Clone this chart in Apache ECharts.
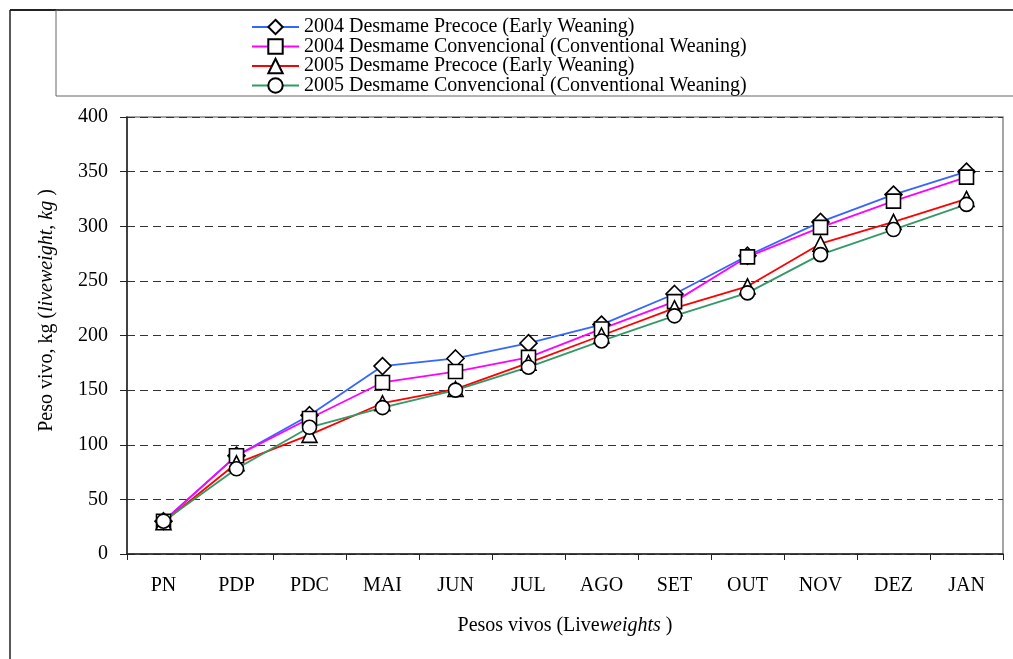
<!DOCTYPE html>
<html>
<head>
<meta charset="utf-8">
<script src="https://cdn.jsdelivr.net/npm/echarts@6/dist/echarts.min.js"></script>
<style>
  html, body { margin: 0; padding: 0; background: #fff; }
  #main { width: 1013px; height: 659px; }
</style>
</head>
<body>
<div id="main"></div>
<script>
// meses / pesagens
const categories = ['PN', 'PDP', 'PDC', 'MAI', 'JUN', 'JUL', 'AGO', 'SET', 'OUT', 'NOV', 'DEZ', 'JAN'];
const yTicks = [0, 50, 100, 150, 200, 250, 300, 350, 400];

// pesos vivos (kg)
const precoce2004 = [30, 90, 127, 172, 179, 193, 210, 238, 273, 304, 329, 350];
const convencional2004 = [30, 90, 124, 157, 167, 180, 206, 231, 272, 299, 323, 345];
const precoce2005 = [29, 83, 109, 138, 151, 175, 200, 225, 245, 284, 304, 325];
const convencional2005 = [30, 78, 116, 134, 150, 171, 195, 218, 239, 274, 297, 320];

const seriesNames = [
  '2004 Desmame Precoce (Early Weaning)',
  '2004 Desmame Convencional (Conventional Weaning)',
  '2005 Desmame Precoce (Early Weaning)',
  '2005 Desmame Convencional (Conventional Weaning)'
];

const serif = "'Liberation Serif', 'Times New Roman', serif";
const chart = echarts.init(document.getElementById('main'), null, {renderer: 'canvas'});

function makeSeries(name, data, color, symbol, size) {
  return {
    name: name,
    type: 'line',
    data: data,
    symbol: symbol,
    symbolSize: size,
    showAllSymbol: true,
    animation: false,
    lineStyle: {color: color, width: 1.8},
    itemStyle: {color: '#fff', borderColor: '#000', borderWidth: 1.6},
    color: color
  };
}

chart.setOption({
  backgroundColor: '#fff',
  textStyle: {fontFamily: serif},
  graphic: [
    // moldura externa
    {type: 'line', shape: {x1: 10, y1: 10, x2: 1013, y2: 10}, style: {stroke: '#222', lineWidth: 2}},
    {type: 'line', shape: {x1: 10, y1: 10, x2: 10, y2: 659}, style: {stroke: '#222', lineWidth: 1.5}},
    // caixa da legenda
    {type: 'rect', shape: {x: 56, y: 10, width: 970, height: 86}, style: {fill: 'none', stroke: '#666', lineWidth: 1}}
  ],
  legend: {
    orient: 'vertical',
    left: 251,
    top: 17,
    padding: 0,
    itemWidth: 47,
    itemHeight: 18,
    itemGap: -0.5,
    textStyle: {fontFamily: serif, fontSize: 20, color: '#000', lineHeight: 19.5},
    data: seriesNames
  },
  grid: {
    left: 127,
    top: 117,
    right: 10,
    bottom: 105,
    show: true,
    borderColor: '#888',
    borderWidth: 1.5
  },
  xAxis: {
    type: 'category',
    data: categories,
    boundaryGap: true,
    axisLine: {lineStyle: {color: '#222', width: 1.5}},
    axisTick: {show: true, length: 6, lineStyle: {color: '#222'}},
    axisLabel: {fontFamily: serif, fontSize: 20, color: '#000', margin: 22},
    name: 'Pesos vivos (Live{i|weights} )',
    nameLocation: 'middle',
    nameGap: 62,
    nameTextStyle: {
      fontFamily: serif, fontSize: 20, color: '#000',
      rich: {i: {fontFamily: serif, fontSize: 20, fontStyle: 'italic', color: '#000'}}
    }
  },
  yAxis: {
    type: 'value',
    min: yTicks[0],
    max: yTicks[yTicks.length - 1],
    interval: yTicks[1] - yTicks[0],
    axisLine: {show: true, lineStyle: {color: '#222', width: 1.5}},
    axisTick: {show: true, length: 7, lineStyle: {color: '#222'}},
    axisLabel: {fontFamily: serif, fontSize: 20, color: '#000', margin: 19},
    splitLine: {show: true, lineStyle: {color: '#333', type: [8, 5], width: 1}},
    name: 'Peso vivo, kg ({i|liveweight, kg} )',
    nameLocation: 'middle',
    nameGap: 70,
    nameTextStyle: {
      fontFamily: serif, fontSize: 20, color: '#000', padding: [0, 0, 0, 50],
      rich: {i: {fontFamily: serif, fontSize: 20, fontStyle: 'italic', color: '#000'}}
    }
  },
  series: [
    makeSeries(seriesNames[0], precoce2004, '#3366ff', 'diamond', 17),
    makeSeries(seriesNames[1], convencional2004, '#ff00ff', 'rect', 14),
    makeSeries(seriesNames[2], precoce2005, '#ff0000', 'triangle', 15),
    makeSeries(seriesNames[3], convencional2005, '#339966', 'circle', 14)
  ]
});
</script>
</body>
</html>
